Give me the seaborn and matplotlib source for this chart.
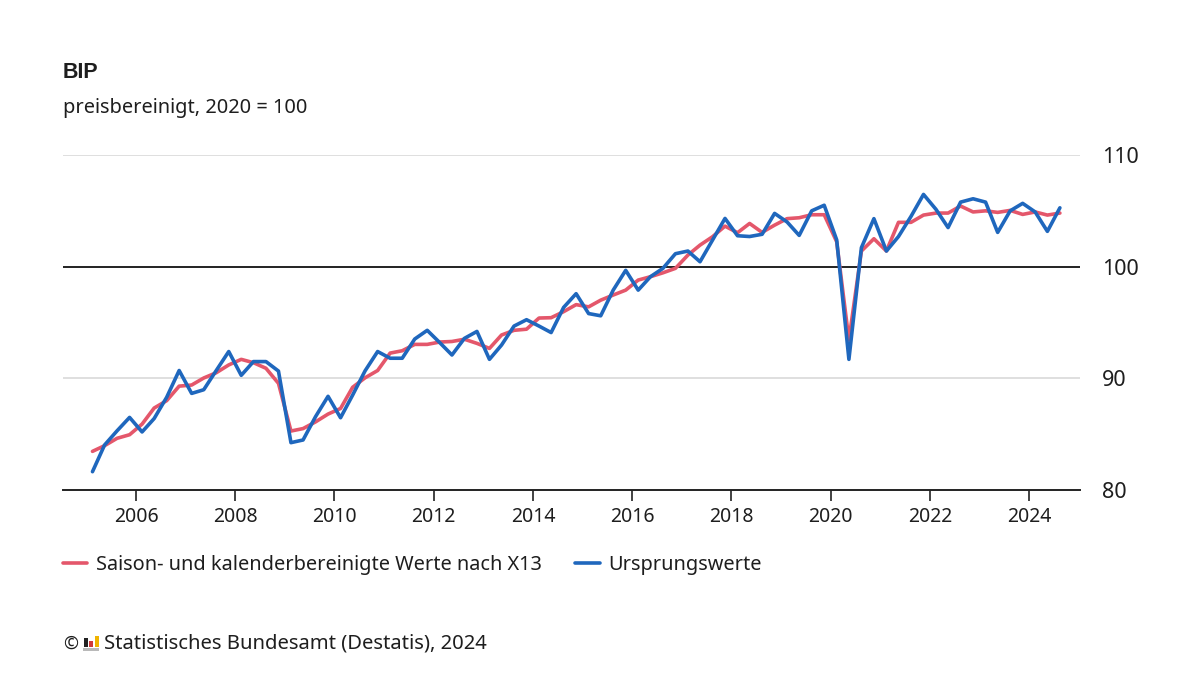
import pandas as pd
import matplotlib
matplotlib.use("Agg")
import matplotlib.pyplot as plt
import matplotlib.dates as mdates
import seaborn as sns
from matplotlib.patches import Rectangle

# quarterly values, 2005 Q1 to 2024 Q3
x13_values = [
    83.46, 83.97, 84.63, 84.95, 85.9, 87.34, 88.0, 89.3, 89.4, 90.03,
    90.5, 91.2, 91.7, 91.4, 90.9, 89.55, 85.28, 85.5, 86.1, 86.8,
    87.3, 89.2, 90.05, 90.7, 92.26, 92.47, 93.04, 93.04, 93.25, 93.3,
    93.5, 93.13, 92.68, 93.88, 94.3, 94.4, 95.4, 95.43, 95.97, 96.6,
    96.4, 97.0, 97.46, 97.9, 98.8, 99.1, 99.45, 99.85, 101.04, 101.93,
    102.68, 103.63, 103.04, 103.87, 103.07, 103.72, 104.3, 104.38, 104.65, 104.65,
    102.23, 93.43, 101.4, 102.5, 101.4, 103.97, 103.97, 104.62, 104.8, 104.8,
    105.43, 104.9, 105.0, 104.86, 105.04, 104.68, 104.9, 104.62, 104.8,
]
orig_values = [
    81.64, 84.03, 85.3, 86.5, 85.2, 86.4, 88.3, 90.7, 88.65, 88.98,
    90.7, 92.4, 90.27, 91.5, 91.5, 90.65, 84.24, 84.48, 86.57, 88.39,
    86.47, 88.5, 90.68, 92.4, 91.8, 91.8, 93.52, 94.3, 93.2, 92.09,
    93.58, 94.2, 91.7, 92.98, 94.68, 95.25, 94.68, 94.1, 96.35, 97.58,
    95.8, 95.6, 97.9, 99.67, 97.9, 99.1, 99.85, 101.16, 101.4, 100.44,
    102.38, 104.32, 102.77, 102.7, 102.9, 104.77, 104.0, 102.8, 105.0, 105.5,
    102.4, 91.7, 101.7, 104.3, 101.4, 102.7, 104.5, 106.47, 105.13, 103.5,
    105.78, 106.08, 105.78, 103.07, 105.0, 105.67, 104.9, 103.16, 105.27,
]
quarters = pd.date_range("2005-02-15", periods=len(orig_values), freq=pd.DateOffset(months=3))

label_x13 = "Saison- und kalenderbereinigte Werte nach X13"
label_orig = "Ursprungswerte"
y_ticks = [80, 90, 100, 110]
tick_years = list(range(2006, 2025, 2))

sns.set_theme(style="white")
plt.rcParams["font.family"] = ["Noto Sans", "DejaVu Sans"]

df = pd.DataFrame({
    "quartal": list(quarters) * 2,
    "wert": x13_values + orig_values,
    "reihe": [label_x13] * len(x13_values) + [label_orig] * len(orig_values),
})

text_col = "#1e1e1e"
fig = plt.figure(figsize=(12, 6.75), dpi=100)
ax = fig.add_axes([63 / 1200, 1 - 490 / 675, (1080 - 63) / 1200, (490 - 155) / 675])

for val in [90, 110]:
    ax.axhline(val, color="#dcdcdc", lw=1.3, zorder=1)
ax.axhline(100, color="#222222", lw=1.4, zorder=1)

sns.lineplot(data=df, x="quartal", y="wert", hue="reihe", ax=ax, linewidth=2.6,
             palette={label_x13: "#e4576b", label_orig: "#1f67bd"}, zorder=3)

ax.set_xlim(pd.Timestamp("2004-07-13"), pd.Timestamp("2025-01-10"))
ax.set_ylim(80, 110)
ax.set_xlabel("")
ax.set_ylabel("")
for side in ["top", "left", "right"]:
    ax.spines[side].set_visible(False)
ax.spines["bottom"].set_color("#222222")
ax.spines["bottom"].set_linewidth(1.4)

ax.set_xticks([mdates.date2num(pd.Timestamp(f"{y}-01-01")) for y in tick_years])
ax.set_xticklabels([str(y) for y in tick_years])
ax.set_yticks(y_ticks)
ax.yaxis.tick_right()
ax.tick_params(axis="x", bottom=True, length=8, width=1.2, color="#222222", pad=4,
               labelsize=14, labelcolor=text_col)
ax.tick_params(axis="y", right=False, length=0, pad=16, labelsize=15.5, labelcolor=text_col)

handles, labels = ax.get_legend_handles_labels()
fig.legend(handles, labels, loc="upper left", bbox_to_anchor=(63 / 1200, 1 - 555 / 675),
           ncol=2, frameon=False, fontsize=14.35, labelcolor=text_col, borderaxespad=0,
           borderpad=0, handlelength=1.22, handletextpad=0.45, columnspacing=1.67)
ax.get_legend().remove()

fig.text(63 / 1200, 1 - 72 / 675, "BIP", fontsize=15.5, fontweight="bold", color=text_col,
         va="center", ha="left", family=["Liberation Sans", "DejaVu Sans"])
fig.text(63 / 1200, 1 - 108 / 675, "preisbereinigt, 2020 = 100", fontsize=14.4, color=text_col,
         va="center", ha="left")
fig.text(63 / 1200, 1 - 644 / 675, "©", fontsize=13, color=text_col, va="center", ha="left")
fig.text(104 / 1200, 1 - 643 / 675, "Statistisches Bundesamt (Destatis), 2024", fontsize=14.55,
         color=text_col, va="center", ha="left")

# Destatis logo next to the copyright sign
for x0, y0, w, h, col in [(83, 648, 16, 3, "#b9b9b9"), (84, 638, 3.5, 9, "#222222"),
                          (89, 641, 3.5, 6, "#d03a3a"), (95, 636, 3.5, 11, "#f0b400")]:
    fig.add_artist(Rectangle((x0 / 1200, 1 - (y0 + h) / 675), w / 1200, h / 675,
                             transform=fig.transFigure, color=col, lw=0))

fig.savefig("out.png", dpi=100)
